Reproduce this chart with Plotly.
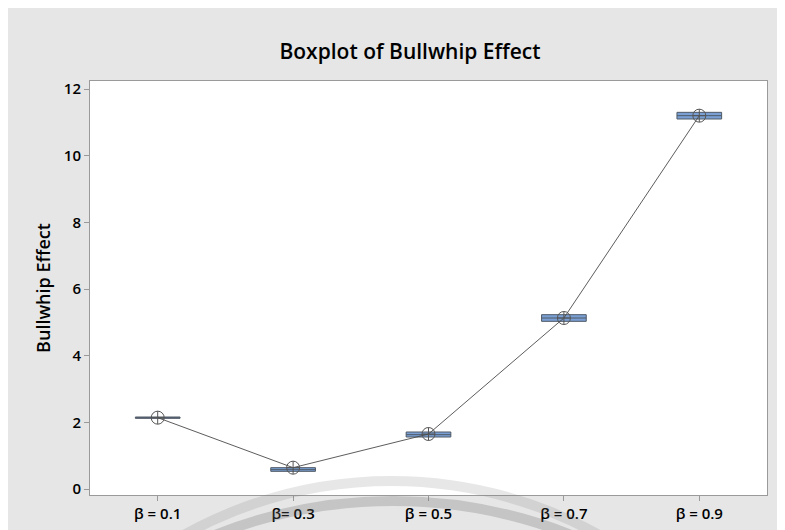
import plotly.graph_objects as go

categories = ["β = 0.1", "β= 0.3", "β = 0.5", "β = 0.7", "β = 0.9"]
q1_vals = [2.12, 0.53, 1.56, 5.03, 11.10]
median_vals = [2.14, 0.58, 1.63, 5.13, 11.20]
q3_vals = [2.16, 0.64, 1.71, 5.23, 11.30]
lower_vals = [2.11, 0.52, 1.55, 5.02, 11.09]
upper_vals = [2.17, 0.65, 1.72, 5.24, 11.31]
mean_vals = [2.14, 0.64, 1.65, 5.13, 11.20]
y_ticks = [0, 2, 4, 6, 8, 10, 12]

W, H = 785, 530
L, R, T, B = 82, 759, 73, 487

fig = go.Figure()
fig.add_trace(go.Box(
    x=categories, q1=q1_vals, median=median_vals, q3=q3_vals,
    lowerfence=lower_vals, upperfence=upper_vals,
    width=0.33, fillcolor="#7a9fd4",
    line=dict(color="#505a66", width=1),
    whiskerwidth=0, boxpoints=False, showlegend=False,
))
fig.add_trace(go.Scatter(
    x=categories, y=mean_vals, mode="lines+markers",
    line=dict(color="#4a4a4a", width=0.9),
    marker=dict(symbol="circle-cross-open", size=13,
                color="#555555", line=dict(width=1, color="#555555")),
    showlegend=False,
))

def px_x(v):
    return (v - L) / (R - L)

def px_y(v):
    return (B - v) / (B - T)

# watermark arcs (decoration)
for cx, cy, rad, wd, col in [(383.5, 899, 426, 10, "rgba(120,120,120,0.18)"),
                             (385, 978, 485, 10, "rgba(110,110,110,0.28)")]:
    fig.add_shape(type="circle", xref="paper", yref="paper",
                  x0=px_x(cx - rad), x1=px_x(cx + rad),
                  y0=px_y(cy + rad), y1=px_y(cy - rad),
                  line=dict(color=col, width=wd), fillcolor="rgba(0,0,0,0)",
                  layer="above")

font_family = "Open Sans, Noto Sans, sans-serif"
fig.update_layout(
    width=W, height=H,
    margin=dict(l=L, r=W - R, t=T, b=H - B),
    paper_bgcolor="#e6e6e6", plot_bgcolor="white",
    font=dict(family=font_family, color="black"),
    title=dict(text="Boxplot of Bullwhip Effect", x=402 / W, xanchor="center",
               y=1 - 44 / H, yanchor="middle",
               font=dict(size=21, weight=600, family=font_family)),
    xaxis=dict(type="category", range=[-0.5, 4.5], showline=True, mirror=True,
               linecolor="#9a9a9a", linewidth=1, ticks="outside", ticklen=5,
               tickcolor="#9a9a9a", showgrid=False, zeroline=False,
               tickfont=dict(size=15, weight=600)),
    yaxis=dict(range=[-0.18, 12.24], tickvals=y_ticks, showline=True, mirror=True,
               linecolor="#9a9a9a", linewidth=1, ticks="outside", ticklen=5,
               tickcolor="#9a9a9a", showgrid=False, zeroline=False,
               tickfont=dict(size=15, weight=600),
               title=dict(text="Bullwhip Effect", standoff=8,
                          font=dict(size=18, weight=600))),
)

fig.write_html("out.html")
